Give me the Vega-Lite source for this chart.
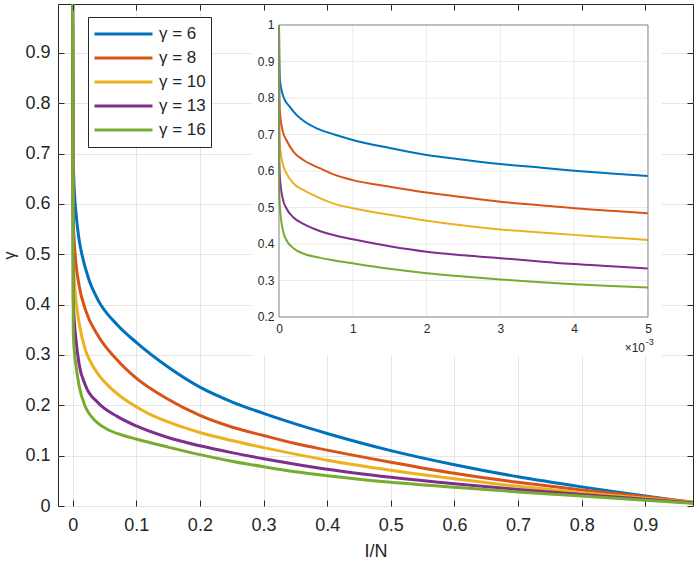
{
  "$schema": "https://vega.github.io/schema/vega-lite/v6.json",
  "width": 635,
  "height": 502,
  "autosize": {"type": "none"},
  "padding": {"left": 58, "top": 4, "right": 3, "bottom": 61},
  "background": "white",
  "config": {
    "font": "Liberation Sans",
    "view": {"stroke": "#262626", "strokeWidth": 1},
    "axis": {"labelFont": "Liberation Sans", "titleFont": "Liberation Sans", "labelColor": "#262626", "titleColor": "#262626", "labelFlush": false, "labelOverlap": false, "titleFontWeight": "normal", "tickColor": "#262626"}
  },
  "datasets": {
    "main": [
      {"series": "γ = 6", "x": 0, "y": 1}, {"series": "γ = 6", "x": 0.001, "y": 0.685}, {"series": "γ = 6", "x": 0.003, "y": 0.619}, {"series": "γ = 6", "x": 0.005, "y": 0.586}, {"series": "γ = 6", "x": 0.01, "y": 0.53}, {"series": "γ = 6", "x": 0.014, "y": 0.503}, {"series": "γ = 6", "x": 0.025, "y": 0.452}, {"series": "γ = 6", "x": 0.04, "y": 0.409}, {"series": "γ = 6", "x": 0.07, "y": 0.36}, {"series": "γ = 6", "x": 0.1, "y": 0.325}, {"series": "γ = 6", "x": 0.15, "y": 0.276}, {"series": "γ = 6", "x": 0.2, "y": 0.236}, {"series": "γ = 6", "x": 0.25, "y": 0.207}, {"series": "γ = 6", "x": 0.3, "y": 0.184}, {"series": "γ = 6", "x": 0.35, "y": 0.163}, {"series": "γ = 6", "x": 0.4, "y": 0.144}, {"series": "γ = 6", "x": 0.5, "y": 0.11}, {"series": "γ = 6", "x": 0.6, "y": 0.082}, {"series": "γ = 6", "x": 0.7, "y": 0.058}, {"series": "γ = 6", "x": 0.8, "y": 0.038}, {"series": "γ = 6", "x": 0.9, "y": 0.02}, {"series": "γ = 6", "x": 0.975, "y": 0.0065},
      {"series": "γ = 8", "x": 0, "y": 1}, {"series": "γ = 8", "x": 0.001, "y": 0.575}, {"series": "γ = 8", "x": 0.003, "y": 0.516}, {"series": "γ = 8", "x": 0.005, "y": 0.484}, {"series": "γ = 8", "x": 0.01, "y": 0.439}, {"series": "γ = 8", "x": 0.02, "y": 0.39}, {"series": "γ = 8", "x": 0.04, "y": 0.338}, {"series": "γ = 8", "x": 0.07, "y": 0.29}, {"series": "γ = 8", "x": 0.1, "y": 0.254}, {"series": "γ = 8", "x": 0.15, "y": 0.212}, {"series": "γ = 8", "x": 0.2, "y": 0.18}, {"series": "γ = 8", "x": 0.25, "y": 0.157}, {"series": "γ = 8", "x": 0.3, "y": 0.14}, {"series": "γ = 8", "x": 0.35, "y": 0.124}, {"series": "γ = 8", "x": 0.4, "y": 0.111}, {"series": "γ = 8", "x": 0.5, "y": 0.087}, {"series": "γ = 8", "x": 0.6, "y": 0.065}, {"series": "γ = 8", "x": 0.7, "y": 0.047}, {"series": "γ = 8", "x": 0.8, "y": 0.032}, {"series": "γ = 8", "x": 0.9, "y": 0.0185}, {"series": "γ = 8", "x": 0.975, "y": 0.008},
      {"series": "γ = 10", "x": 0, "y": 1}, {"series": "γ = 10", "x": 0.001, "y": 0.498}, {"series": "γ = 10", "x": 0.003, "y": 0.44}, {"series": "γ = 10", "x": 0.005, "y": 0.411}, {"series": "γ = 10", "x": 0.01, "y": 0.365}, {"series": "γ = 10", "x": 0.02, "y": 0.31}, {"series": "γ = 10", "x": 0.03, "y": 0.282}, {"series": "γ = 10", "x": 0.04, "y": 0.262}, {"series": "γ = 10", "x": 0.055, "y": 0.24}, {"series": "γ = 10", "x": 0.07, "y": 0.223}, {"series": "γ = 10", "x": 0.085, "y": 0.209}, {"series": "γ = 10", "x": 0.1, "y": 0.197}, {"series": "γ = 10", "x": 0.12, "y": 0.183}, {"series": "γ = 10", "x": 0.15, "y": 0.167}, {"series": "γ = 10", "x": 0.2, "y": 0.146}, {"series": "γ = 10", "x": 0.25, "y": 0.13}, {"series": "γ = 10", "x": 0.3, "y": 0.116}, {"series": "γ = 10", "x": 0.35, "y": 0.103}, {"series": "γ = 10", "x": 0.4, "y": 0.091}, {"series": "γ = 10", "x": 0.5, "y": 0.071}, {"series": "γ = 10", "x": 0.6, "y": 0.054}, {"series": "γ = 10", "x": 0.7, "y": 0.039}, {"series": "γ = 10", "x": 0.8, "y": 0.0265}, {"series": "γ = 10", "x": 0.9, "y": 0.0155}, {"series": "γ = 10", "x": 0.975, "y": 0.007},
      {"series": "γ = 13", "x": 0, "y": 1}, {"series": "γ = 13", "x": 0.001, "y": 0.413}, {"series": "γ = 13", "x": 0.003, "y": 0.361}, {"series": "γ = 13", "x": 0.005, "y": 0.333}, {"series": "γ = 13", "x": 0.01, "y": 0.283}, {"series": "γ = 13", "x": 0.02, "y": 0.24}, {"series": "γ = 13", "x": 0.04, "y": 0.205}, {"series": "γ = 13", "x": 0.07, "y": 0.178}, {"series": "γ = 13", "x": 0.1, "y": 0.159}, {"series": "γ = 13", "x": 0.15, "y": 0.136}, {"series": "γ = 13", "x": 0.2, "y": 0.1195}, {"series": "γ = 13", "x": 0.25, "y": 0.106}, {"series": "γ = 13", "x": 0.3, "y": 0.094}, {"series": "γ = 13", "x": 0.35, "y": 0.083}, {"series": "γ = 13", "x": 0.4, "y": 0.073}, {"series": "γ = 13", "x": 0.5, "y": 0.057}, {"series": "γ = 13", "x": 0.6, "y": 0.044}, {"series": "γ = 13", "x": 0.7, "y": 0.033}, {"series": "γ = 13", "x": 0.8, "y": 0.023}, {"series": "γ = 13", "x": 0.9, "y": 0.0135}, {"series": "γ = 13", "x": 0.975, "y": 0.006},
      {"series": "γ = 16", "x": 0, "y": 1}, {"series": "γ = 16", "x": 0.001, "y": 0.347}, {"series": "γ = 16", "x": 0.003, "y": 0.303}, {"series": "γ = 16", "x": 0.005, "y": 0.281}, {"series": "γ = 16", "x": 0.01, "y": 0.24}, {"series": "γ = 16", "x": 0.02, "y": 0.197}, {"series": "γ = 16", "x": 0.03, "y": 0.177}, {"series": "γ = 16", "x": 0.04, "y": 0.164}, {"series": "γ = 16", "x": 0.055, "y": 0.152}, {"series": "γ = 16", "x": 0.075, "y": 0.142}, {"series": "γ = 16", "x": 0.1, "y": 0.133}, {"series": "γ = 16", "x": 0.15, "y": 0.117}, {"series": "γ = 16", "x": 0.2, "y": 0.102}, {"series": "γ = 16", "x": 0.25, "y": 0.089}, {"series": "γ = 16", "x": 0.3, "y": 0.078}, {"series": "γ = 16", "x": 0.35, "y": 0.068}, {"series": "γ = 16", "x": 0.4, "y": 0.06}, {"series": "γ = 16", "x": 0.5, "y": 0.047}, {"series": "γ = 16", "x": 0.6, "y": 0.037}, {"series": "γ = 16", "x": 0.7, "y": 0.028}, {"series": "γ = 16", "x": 0.8, "y": 0.02}, {"series": "γ = 16", "x": 0.9, "y": 0.0115}, {"series": "γ = 16", "x": 0.975, "y": 0.005}
    ],
    "inset": [
      {"series": "γ = 6", "x": 0, "y": 1}, {"series": "γ = 6", "x": 0.003, "y": 0.92}, {"series": "γ = 6", "x": 0.0135, "y": 0.849}, {"series": "γ = 6", "x": 0.059, "y": 0.804}, {"series": "γ = 6", "x": 0.15, "y": 0.775}, {"series": "γ = 6", "x": 0.24, "y": 0.753}, {"series": "γ = 6", "x": 0.35, "y": 0.735}, {"series": "γ = 6", "x": 0.51, "y": 0.717}, {"series": "γ = 6", "x": 0.75, "y": 0.7}, {"series": "γ = 6", "x": 1, "y": 0.685}, {"series": "γ = 6", "x": 1.5, "y": 0.663}, {"series": "γ = 6", "x": 2, "y": 0.644}, {"series": "γ = 6", "x": 2.5, "y": 0.631}, {"series": "γ = 6", "x": 3, "y": 0.619}, {"series": "γ = 6", "x": 3.5, "y": 0.61}, {"series": "γ = 6", "x": 4, "y": 0.601}, {"series": "γ = 6", "x": 4.5, "y": 0.593}, {"series": "γ = 6", "x": 5, "y": 0.586},
      {"series": "γ = 8", "x": 0, "y": 1}, {"series": "γ = 8", "x": 0.003, "y": 0.82}, {"series": "γ = 8", "x": 0.0135, "y": 0.76}, {"series": "γ = 8", "x": 0.05, "y": 0.71}, {"series": "γ = 8", "x": 0.1, "y": 0.685}, {"series": "γ = 8", "x": 0.2, "y": 0.652}, {"series": "γ = 8", "x": 0.33, "y": 0.63}, {"series": "γ = 8", "x": 0.56, "y": 0.607}, {"series": "γ = 8", "x": 0.75, "y": 0.59}, {"series": "γ = 8", "x": 1, "y": 0.575}, {"series": "γ = 8", "x": 1.5, "y": 0.557}, {"series": "γ = 8", "x": 2, "y": 0.541}, {"series": "γ = 8", "x": 2.5, "y": 0.528}, {"series": "γ = 8", "x": 3, "y": 0.516}, {"series": "γ = 8", "x": 3.5, "y": 0.507}, {"series": "γ = 8", "x": 4, "y": 0.498}, {"series": "γ = 8", "x": 4.5, "y": 0.491}, {"series": "γ = 8", "x": 5, "y": 0.484},
      {"series": "γ = 10", "x": 0, "y": 1}, {"series": "γ = 10", "x": 0.003, "y": 0.72}, {"series": "γ = 10", "x": 0.0135, "y": 0.67}, {"series": "γ = 10", "x": 0.05, "y": 0.62}, {"series": "γ = 10", "x": 0.1, "y": 0.594}, {"series": "γ = 10", "x": 0.2, "y": 0.565}, {"series": "γ = 10", "x": 0.33, "y": 0.548}, {"series": "γ = 10", "x": 0.56, "y": 0.525}, {"series": "γ = 10", "x": 0.75, "y": 0.51}, {"series": "γ = 10", "x": 1, "y": 0.498}, {"series": "γ = 10", "x": 1.5, "y": 0.48}, {"series": "γ = 10", "x": 2, "y": 0.464}, {"series": "γ = 10", "x": 2.5, "y": 0.451}, {"series": "γ = 10", "x": 3, "y": 0.44}, {"series": "γ = 10", "x": 3.5, "y": 0.432}, {"series": "γ = 10", "x": 4, "y": 0.425}, {"series": "γ = 10", "x": 4.5, "y": 0.418}, {"series": "γ = 10", "x": 5, "y": 0.411},
      {"series": "γ = 13", "x": 0, "y": 1}, {"series": "γ = 13", "x": 0.003, "y": 0.63}, {"series": "γ = 13", "x": 0.0135, "y": 0.58}, {"series": "γ = 13", "x": 0.05, "y": 0.525}, {"series": "γ = 13", "x": 0.1, "y": 0.498}, {"series": "γ = 13", "x": 0.2, "y": 0.472}, {"series": "γ = 13", "x": 0.33, "y": 0.455}, {"series": "γ = 13", "x": 0.56, "y": 0.435}, {"series": "γ = 13", "x": 0.75, "y": 0.424}, {"series": "γ = 13", "x": 1, "y": 0.413}, {"series": "γ = 13", "x": 1.5, "y": 0.394}, {"series": "γ = 13", "x": 2, "y": 0.379}, {"series": "γ = 13", "x": 2.5, "y": 0.369}, {"series": "γ = 13", "x": 3, "y": 0.361}, {"series": "γ = 13", "x": 3.5, "y": 0.353}, {"series": "γ = 13", "x": 4, "y": 0.345}, {"series": "γ = 13", "x": 4.5, "y": 0.339}, {"series": "γ = 13", "x": 5, "y": 0.333},
      {"series": "γ = 16", "x": 0, "y": 1}, {"series": "γ = 16", "x": 0.003, "y": 0.55}, {"series": "γ = 16", "x": 0.0135, "y": 0.5}, {"series": "γ = 16", "x": 0.05, "y": 0.44}, {"series": "γ = 16", "x": 0.1, "y": 0.411}, {"series": "γ = 16", "x": 0.2, "y": 0.388}, {"series": "γ = 16", "x": 0.33, "y": 0.374}, {"series": "γ = 16", "x": 0.56, "y": 0.362}, {"series": "γ = 16", "x": 0.75, "y": 0.355}, {"series": "γ = 16", "x": 1, "y": 0.347}, {"series": "γ = 16", "x": 1.5, "y": 0.332}, {"series": "γ = 16", "x": 2, "y": 0.32}, {"series": "γ = 16", "x": 2.5, "y": 0.311}, {"series": "γ = 16", "x": 3, "y": 0.303}, {"series": "γ = 16", "x": 3.5, "y": 0.296}, {"series": "γ = 16", "x": 4, "y": 0.29}, {"series": "γ = 16", "x": 4.5, "y": 0.285}, {"series": "γ = 16", "x": 5, "y": 0.281}
    ]
  },
  "layer": [
    {
      "data": {"name": "main"},
      "mark": {"type": "line", "strokeWidth": 3, "clip": true, "interpolate": "monotone"},
      "encoding": {
        "x": {"field": "x", "type": "quantitative", "scale": {"domain": [-0.023, 0.975], "nice": false, "zero": false},
          "axis": {"orient": "bottom", "values": [0, 0.1, 0.2, 0.3, 0.4, 0.5, 0.6, 0.7, 0.8, 0.9], "format": ".1~f", "title": "I/N", "labelFontSize": 18, "titleFontSize": 18, "labelPadding": 16, "tickSize": -6, "domain": false, "grid": true, "gridColor": "#e6e6e6", "zindex": 0, "titlePadding": 8}},
        "y": {"field": "y", "type": "quantitative", "scale": {"domain": [0, 0.997], "nice": false, "zero": false},
          "axis": {"orient": "left", "values": [0, 0.1, 0.2, 0.3, 0.4, 0.5, 0.6, 0.7, 0.8, 0.9], "format": ".1~f", "title": "γ", "labelFontSize": 18, "titleFontSize": 16, "labelPadding": 14, "tickSize": -6, "domain": false, "grid": true, "gridColor": "#e6e6e6", "zindex": 0, "titlePadding": 7}},
        "color": {"field": "series", "type": "nominal",
          "scale": {"domain": ["γ = 6", "γ = 8", "γ = 10", "γ = 13", "γ = 16"], "range": ["#0072BD", "#D95319", "#EDB120", "#7E2F8E", "#77AC30"]},
          "legend": {"orient": "none", "legendX": 30, "legendY": 13, "title": null, "symbolType": "stroke", "symbolSize": 3364, "symbolStrokeWidth": 3, "clipHeight": 24, "rowPadding": 0, "labelFontSize": 17, "labelFont": "Liberation Sans", "labelColor": "#262626", "labelOffset": 5, "padding": 5, "strokeColor": "#262626", "fillColor": "white"}}
      }
    },
    {
      "layer": [
        {
          "data": {"values": [{}]},
          "mark": {"type": "rect", "fill": "white"},
          "encoding": {
            "x": {"datum": -0.37, "type": "quantitative"}, "x2": {"datum": 5.19},
            "y": {"datum": 0.093, "type": "quantitative"}, "y2": {"datum": 1.054}
          }
        },
        {
          "data": {"values": [{"g": 1}, {"g": 2}, {"g": 3}, {"g": 4}]},
          "mark": {"type": "rule", "color": "#ebebeb", "strokeWidth": 1},
          "encoding": {
            "x": {"field": "g", "type": "quantitative"},
            "y": {"datum": 0.2, "type": "quantitative"}, "y2": {"datum": 1}
          }
        },
        {
          "data": {"values": [{"h": 0.3}, {"h": 0.4}, {"h": 0.5}, {"h": 0.6}, {"h": 0.7}, {"h": 0.8}, {"h": 0.9}]},
          "mark": {"type": "rule", "color": "#ebebeb", "strokeWidth": 1},
          "encoding": {
            "y": {"field": "h", "type": "quantitative"},
            "x": {"datum": 0, "type": "quantitative"}, "x2": {"datum": 5}
          }
        },
        {
          "data": {"name": "inset"},
          "mark": {"type": "line", "strokeWidth": 2, "interpolate": "monotone"},
          "encoding": {
            "x": {"field": "x", "type": "quantitative", "scale": {"domain": [-2.99458, 5.60976], "nice": false, "zero": false},
              "axis": {"orient": "bottom", "offset": -189, "values": [0, 1, 2, 3, 4, 5], "format": "d", "title": null, "labelFontSize": 12, "labelPadding": 6, "ticks": false, "domain": false, "grid": false, "zindex": 1}},
            "y": {"field": "y", "type": "quantitative", "scale": {"domain": [-0.31781, 1.05753], "nice": false, "zero": false},
              "axis": {"orient": "left", "offset": -221, "values": [0.2, 0.3, 0.4, 0.5, 0.6, 0.7, 0.8, 0.9, 1], "format": ".1~f", "title": null, "labelFontSize": 12, "labelPadding": 5, "ticks": false, "domain": false, "grid": false, "zindex": 1}},
            "color": {"field": "series", "type": "nominal", "legend": null}
          }
        },
        {
          "data": {"values": [{}]},
          "mark": {"type": "rect", "fillOpacity": 0, "stroke": "#808080", "strokeWidth": 1},
          "encoding": {
            "x": {"datum": 0, "type": "quantitative"}, "x2": {"datum": 5},
            "y": {"datum": 0.2, "type": "quantitative"}, "y2": {"datum": 1}
          }
        },
        {
          "data": {"values": [{}]},
          "mark": {"type": "text", "align": "right", "baseline": "alphabetic", "fontSize": 12, "color": "#262626"},
          "encoding": {
            "x": {"datum": 4.96, "type": "quantitative"},
            "y": {"datum": 0.104, "type": "quantitative"},
            "text": {"value": "×10"}
          }
        },
        {
          "data": {"values": [{}]},
          "mark": {"type": "text", "align": "left", "baseline": "alphabetic", "fontSize": 9, "color": "#262626"},
          "encoding": {
            "x": {"datum": 4.97, "type": "quantitative"},
            "y": {"datum": 0.122, "type": "quantitative"},
            "text": {"value": "-3"}
          }
        }
      ]
    },
    {
      "data": {"name": "main"},
      "mark": {"type": "point", "opacity": 0},
      "encoding": {
        "x": {"field": "x", "type": "quantitative", "scale": {"domain": [-0.023, 0.975], "nice": false, "zero": false},
          "axis": {"orient": "top", "values": [0, 0.1, 0.2, 0.3, 0.4, 0.5, 0.6, 0.7, 0.8, 0.9], "labels": false, "title": null, "tickSize": -6, "domain": false, "grid": false, "zindex": 1}},
        "y": {"field": "y", "type": "quantitative", "scale": {"domain": [0, 0.997], "nice": false, "zero": false},
          "axis": {"orient": "right", "values": [0, 0.1, 0.2, 0.3, 0.4, 0.5, 0.6, 0.7, 0.8, 0.9], "labels": false, "title": null, "tickSize": -6, "domain": false, "grid": false, "zindex": 1}}
      }
    }
  ],
  "resolve": {"scale": {"x": "independent", "y": "independent"}}
}
